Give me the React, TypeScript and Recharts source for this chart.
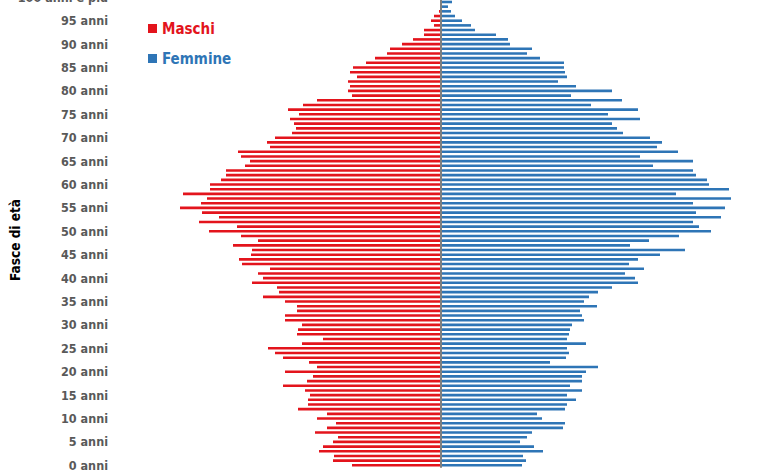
import React from 'react';
import { BarChart, Bar, XAxis, YAxis, ReferenceLine, Legend } from 'recharts';

// Categories: age in years (0 .. 100, where 100 = "100 anni e più")
const ages: number[] = Array.from({ length: 101 }, (_, i) => i);

// Males per age (0 .. 100)
const males: number[] = [
  89, 108, 107, 122, 118, 108, 103, 126, 114, 105,
  124, 114, 143, 133, 133, 131, 136, 158, 134, 128,
  156, 124, 132, 158, 166, 173, 139, 118, 144, 143,
  139, 156, 156, 144, 144, 156, 178, 162, 164, 189,
  178, 183, 171, 199, 202, 190, 189, 208, 183, 200,
  232, 204, 242, 222, 239, 261, 240, 234, 258, 231,
  231, 220, 215, 215, 196, 191, 200, 203, 171, 174,
  166, 149, 145, 147, 151, 142, 153, 138, 124, 89,
  93, 91, 93, 84, 91, 88, 75, 66, 54, 51,
  39, 28, 17, 17, 7, 10, 7, 2, 1, 0,
  1,
];

// Females per age (0 .. 100)
const females: number[] = [
  81, 85, 82, 102, 93, 79, 86, 91, 122, 124,
  101, 96, 124, 126, 135, 126, 141, 129, 141, 141,
  145, 157, 109, 125, 128, 126, 145, 126, 128, 129,
  131, 143, 141, 139, 156, 143, 148, 157, 171, 197,
  194, 184, 203, 188, 197, 219, 244, 189, 208, 238,
  270, 258, 252, 280, 255, 284, 252, 290, 235, 288,
  268, 266, 255, 252, 212, 252, 199, 237, 216, 221,
  209, 182, 176, 171, 199, 167, 197, 150, 181, 130,
  171, 135, 117, 126, 124, 123, 123, 99, 86, 91,
  69, 67, 55, 34, 30, 21, 14, 10, 7, 11,
  3,
];

const seriesNames: string[] = ['Maschi', 'Femmine'];
const tickUnit = 'anni';
const topTickLabel = '100 anni e più';
const axisTitle = 'Fasce di età';

const RED = '#E3141C';
const BLUE = '#2E75B6';
const FONT = "'DejaVu Sans Condensed', 'DejaVu Sans', sans-serif";

const data = ages.map((a, i) => ({ age: a, m: -males[i], f: females[i] }));

const formatAge = (a: number) => (a === 100 ? topTickLabel : `${a} ${tickUnit}`);

const renderLegend = () => (
  <div style={{ fontFamily: FONT, fontStretch: 'condensed', fontWeight: 700, fontSize: 15 }}>
    {seriesNames.map((n, i) => (
      <div
        key={n}
        style={{ display: 'flex', alignItems: 'center', height: 30, color: i === 0 ? RED : BLUE }}
      >
        <span
          style={{ display: 'inline-block', width: 9, height: 9, background: i === 0 ? RED : BLUE, marginRight: 5 }}
        />
        {n}
      </div>
    ))}
  </div>
);

export default function App() {
  return (
    <div style={{ position: 'absolute', left: 0, top: 0, width: 780, height: 470, overflow: 'hidden', background: '#fff' }}>
      <div style={{ position: 'relative', top: -7 }}>
        <BarChart
          width={780}
          height={480}
          data={data}
          layout="vertical"
          stackOffset="sign"
          margin={{ top: 2, right: 13, left: 0, bottom: 5.3 }}
          barSize={2.6}
        >
          <XAxis type="number" domain={[-326, 326]} hide />
          <YAxis
            type="category"
            dataKey="age"
            reversed
            interval={4}
            width={115}
            tickLine={false}
            axisLine={false}
            tickMargin={1}
            tickFormatter={formatAge}
            tick={{ fill: '#595959', fontSize: 12.5, fontWeight: 700, fontFamily: FONT, fontStretch: 'condensed' } as any}
          />
          <Legend
            layout="vertical"
            align="center"
            verticalAlign="middle"
            wrapperStyle={{ left: 148, top: 20.5, width: 'auto' }}
            content={renderLegend}
          />
          <Bar dataKey="m" name={seriesNames[0]} stackId="a" fill={RED} isAnimationActive={false} />
          <Bar dataKey="f" name={seriesNames[1]} stackId="a" fill={BLUE} isAnimationActive={false} />
          <ReferenceLine x={0} stroke="#7F7F7F" strokeWidth={2} />
        </BarChart>
      </div>
      <div
        style={{
          position: 'absolute',
          left: 15,
          top: 240,
          transform: 'translate(-50%, -50%) rotate(-90deg)',
          whiteSpace: 'nowrap',
          fontFamily: FONT,
          fontStretch: 'condensed',
          fontWeight: 700,
          fontSize: 13.5,
          color: '#000',
        }}
      >
        {axisTitle}
      </div>
    </div>
  );
}
